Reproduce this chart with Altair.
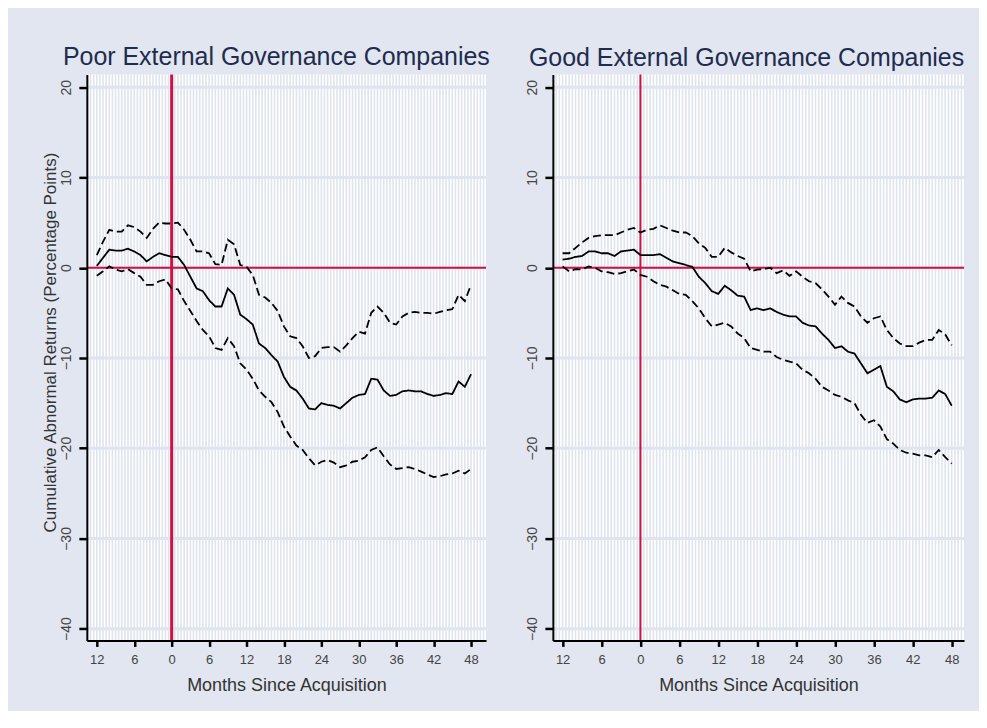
import altair as alt
import pandas as pd

months = list(range(-12, 49))

poor_mean = [0.2, 1.1, 2.0, 1.9, 1.9, 2.1, 1.8, 1.4, 0.7, 1.2,
             1.6, 1.4, 1.2, 1.2, 0.3, -1.0, -2.3, -2.6, -3.6, -4.3,
             -4.3, -2.3, -3.0, -5.2, -5.7, -6.3, -8.4, -8.9, -9.7, -10.4,
             -12.1, -13.2, -13.6, -14.5, -15.6, -15.7, -15.0, -15.2, -15.3, -15.6,
             -15.0, -14.4, -14.1, -14.0, -12.3, -12.4, -13.6, -14.2, -14.1, -13.7,
             -13.6, -13.7, -13.7, -14.0, -14.2, -14.1, -13.9, -14.0, -12.6, -13.2,
             -11.8]
poor_upper = [1.4, 2.9, 4.2, 4.0, 4.0, 4.7, 4.5, 4.0, 3.3, 4.3,
              5.0, 4.9, 4.9, 5.0, 4.2, 3.1, 1.8, 1.8, 1.6, 0.4,
              0.3, 3.1, 2.6, 0.3, 0.1, -0.8, -3.0, -3.3, -3.9, -4.8,
              -6.5, -7.6, -7.8, -8.7, -10.0, -9.8, -8.9, -8.8, -8.8, -9.3,
              -8.6, -7.8, -7.1, -7.3, -5.0, -4.3, -5.0, -6.1, -6.3, -5.4,
              -5.0, -4.9, -5.0, -5.0, -5.1, -4.9, -4.7, -4.6, -3.0, -3.7,
              -1.9]
poor_lower = [-0.9, -0.4, 0.15, -0.2, -0.4, -0.15, -0.6, -1.0, -1.9, -1.9,
              -1.5, -1.3, -2.3, -2.4, -3.7, -4.8, -5.9, -6.9, -7.6, -8.9,
              -9.1, -7.8, -8.7, -10.6, -11.3, -12.3, -13.6, -14.3, -14.9, -16.0,
              -17.6, -18.7, -19.7, -20.2, -21.1, -21.9, -21.5, -21.3, -21.6, -22.1,
              -21.9, -21.5, -21.4, -21.0, -20.2, -19.9, -20.9, -21.8, -22.3, -22.2,
              -22.1, -22.3, -22.6, -22.9, -23.2, -23.1, -22.9, -22.8, -22.5, -22.8,
              -22.3]

good_mean = [0.9, 1.0, 1.2, 1.3, 1.8, 1.8, 1.6, 1.6, 1.3, 1.8,
             1.9, 2.0, 1.4, 1.4, 1.4, 1.5, 1.1, 0.7, 0.5, 0.3,
             0.1, -1.0, -1.7, -2.6, -2.9, -2.0, -2.5, -3.1, -3.2, -4.7,
             -4.5, -4.7, -4.5, -4.9, -5.2, -5.4, -5.4, -6.1, -6.4, -6.5,
             -7.3, -8.0, -8.9, -8.7, -9.3, -9.5, -10.6, -11.7, -11.3, -10.9,
             -13.2, -13.7, -14.6, -14.9, -14.6, -14.5, -14.5, -14.4, -13.6, -14.0,
             -15.3]
good_upper = [1.6, 1.6, 2.2, 2.8, 3.3, 3.5, 3.6, 3.6, 3.6, 3.9,
              4.2, 4.4, 3.9, 4.2, 4.3, 4.7, 4.4, 4.1, 3.9, 3.9,
              3.5, 2.7, 2.2, 1.2, 1.2, 2.2, 1.7, 1.3, 1.0, -0.4,
              -0.2, -0.15, 0.0, -0.6, -0.3, -0.9, -0.4, -1.0, -1.5, -1.7,
              -2.4, -3.2, -4.1, -3.2, -3.9, -4.3, -5.4, -6.1, -5.6, -5.4,
              -6.9, -7.8, -8.4, -8.7, -8.7, -8.3, -8.0, -8.0, -6.9, -7.4,
              -8.6]
good_lower = [0.15, -0.4, -0.15, -0.2, 0.15, 0.0, -0.4, -0.5, -0.7, -0.6,
              -0.4, -0.2, -0.8, -1.0, -1.5, -1.9, -2.1, -2.5, -2.9, -3.0,
              -3.7, -4.5, -5.6, -6.5, -6.3, -6.1, -6.5, -7.3, -7.8, -8.9,
              -9.1, -9.3, -9.3, -9.9, -10.2, -10.4, -10.6, -11.3, -11.7, -12.3,
              -13.2, -13.6, -14.1, -14.3, -14.7, -15.0, -16.3, -17.2, -16.9, -17.6,
              -19.0, -19.5, -20.2, -20.5, -20.6, -20.8, -20.8, -21.0, -20.2, -21.0,
              -21.7]

x_ticks = list(range(-12, 49, 6))
y_ticks = [-40, -30, -20, -10, 0, 10, 20]
grid_months = [h / 2 for h in range(-27, 101)]

titles = ["Poor External Governance Companies", "Good External Governance Companies"]
x_title = "Months Since Acquisition"
y_title = "Cumulative Abnormal Returns (Percentage Points)"

FONT = "Liberation Sans"
RED = "#cf1142"
GRID = "#dfe4ef"
BG = "#e1e6f0"


def panel(title, mean, upper, lower, width, xdomain, vwidth, show_ytitle):
    df = pd.DataFrame({
        "month": months * 3,
        "car": mean + upper + lower,
        "band": ["mean"] * len(months) + ["upper"] * len(months) + ["lower"] * len(months),
    })
    xscale = alt.Scale(domain=xdomain, nice=False, zero=False)
    yscale = alt.Scale(domain=[-41.3, 21.4], nice=False, zero=False)

    yaxis_kw = dict(
        values=y_ticks, labelAngle=-90, labelAlign="center", labelBaseline="bottom",
        labelFontSize=14, labelColor="#444444", labelPadding=5, labelFont=FONT,
        tickSize=8, tickWidth=2.5, tickColor="black",
        domainColor="black", domainWidth=2, grid=False, zindex=1,
    )
    if show_ytitle:
        yaxis_kw.update(
            title=y_title, titleFont=FONT, titleFontSize=17, titleFontWeight="normal",
            titleColor="#333333", titleAngle=-90, titleX=-31, titleY=268,
            titleAlign="center", titleBaseline="alphabetic",
        )
    else:
        yaxis_kw.update(title="")
    yaxis = alt.Axis(**yaxis_kw)
    xaxis = alt.Axis(
        values=x_ticks, labelExpr="abs(datum.value)", labelFontSize=13, labelColor="#444444",
        labelFont=FONT, labelPadding=7, labelFlush=False,
        tickSize=6, tickWidth=2.5, tickColor="black",
        domainColor="black", domainWidth=2, grid=False, zindex=1,
        title=x_title, titleFont=FONT, titleFontSize=18, titleFontWeight="normal",
        titleColor="#333333", titlePadding=10,
    )

    vgrid = alt.Chart(pd.DataFrame({"month": grid_months})).mark_rule(
        color=GRID, strokeWidth=1.6
    ).encode(x=alt.X("month:Q", scale=xscale, axis=xaxis))

    hgrid = alt.Chart(pd.DataFrame({"car": y_ticks})).mark_rule(
        color=GRID, strokeWidth=3
    ).encode(y=alt.Y("car:Q", scale=yscale, axis=yaxis))

    hline = alt.Chart(pd.DataFrame({"car": [0]})).mark_rule(
        color=RED, strokeWidth=2
    ).encode(y=alt.Y("car:Q", scale=yscale, axis=yaxis))

    vline = alt.Chart(pd.DataFrame({"month": [0]})).mark_rule(
        color=RED, strokeWidth=vwidth
    ).encode(x=alt.X("month:Q", scale=xscale, axis=xaxis))

    lines = alt.Chart(df).mark_line(color="black", strokeWidth=1.8).encode(
        x=alt.X("month:Q", scale=xscale, axis=xaxis),
        y=alt.Y("car:Q", scale=yscale, axis=yaxis),
        strokeDash=alt.StrokeDash(
            "band:N",
            scale=alt.Scale(domain=["lower", "mean", "upper"], range=[[8, 4], [1, 0], [8, 4]]),
            legend=None,
        ),
    )

    return alt.layer(vgrid, hgrid, hline, vline, lines).properties(
        width=width, height=567,
        title=alt.TitleParams(
            text=title, anchor="start", frame="group", dx=-24, fontSize=25,
            font=FONT, fontWeight="normal", color="#1f2c4f", offset=3,
        ),
    )


left = panel(titles[0], poor_mean, poor_upper, poor_lower, 400, [-13.6, 50.4], 3, True)
right = panel(titles[1], good_mean, good_upper, good_lower, 412, [-13.5, 49.9], 2, False)

chart = alt.hconcat(left, right, spacing=35).properties(
    background=BG,
    padding={"left": 34, "top": 36, "right": 13, "bottom": 16},
).configure_view(fill="white", stroke=None)

chart.save("out.html", embed_options={"renderer": "svg", "actions": False})
